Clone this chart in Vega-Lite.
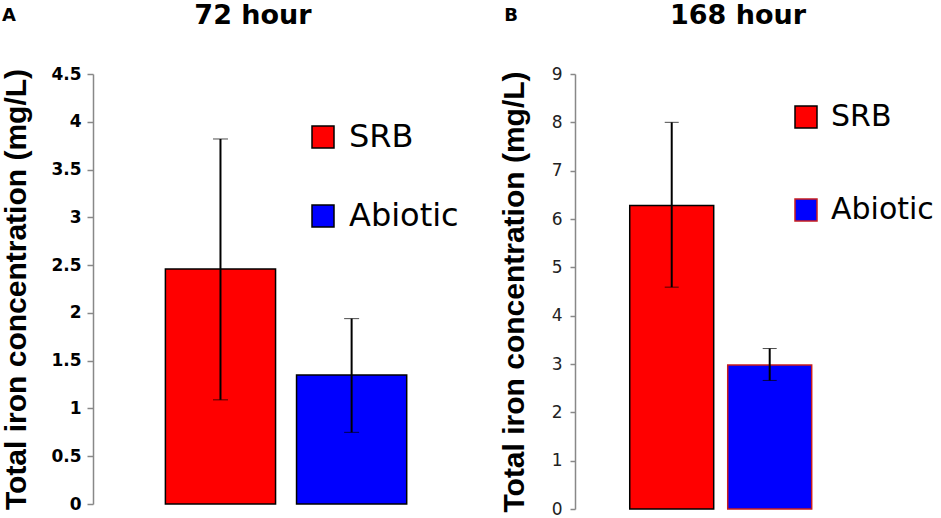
{
  "$schema": "https://vega.github.io/schema/vega-lite/v6.json",
  "padding": {"left": 1, "top": 2, "right": 0, "bottom": 0},
  "background": "white",
  "config": {
    "font": "DejaVu Sans",
    "view": {"stroke": null},
    "axis": {"grid": false},
    "concat": {"spacing": 40}
  },
  "datasets": {
    "fe": [
      {"panel": "72 hour", "group": "SRB", "value": 2.46, "lo": 1.09, "hi": 3.82},
      {"panel": "72 hour", "group": "Abiotic", "value": 1.35, "lo": 0.75, "hi": 1.94},
      {"panel": "168 hour", "group": "SRB", "value": 6.28, "lo": 4.59, "hi": 8.0},
      {"panel": "168 hour", "group": "Abiotic", "value": 2.98, "lo": 2.66, "hi": 3.32}
    ]
  },
  "resolve": {
    "scale": {"color": "independent", "stroke": "independent", "y": "independent", "x": "independent"},
    "legend": {"color": "independent", "stroke": "independent"}
  },
  "hconcat": [
    {
      "title": {"text": "A", "anchor": "start", "fontSize": 18, "fontWeight": "bold", "offset": -23},
      "vconcat": [
        {
          "title": {"text": "72 hour", "fontSize": 27, "fontWeight": "bold", "offset": 35},
          "width": 320,
          "height": 430,
          "data": {"name": "fe"},
          "transform": [{"filter": "datum.panel === '72 hour'"}],
          "encoding": {
            "x": {
              "field": "group", "type": "nominal", "sort": ["SRB", "Abiotic"],
              "scale": {"paddingInner": 0.16, "paddingOuter": 0.3, "align": 0.92},
              "axis": null
            }
          },
          "layer": [
            {
              "mark": {"type": "bar", "stroke": "black", "strokeWidth": 1.5},
              "encoding": {
                "y": {
                  "field": "value", "type": "quantitative",
                  "scale": {"domain": [0, 4.5], "nice": false},
                  "axis": {
                    "title": "Total iron concentration (mg/L)",
                    "titleFont": "Liberation Sans", "titleFontSize": 30, "titleFontWeight": "bold", "titleColor": "black", "titlePadding": 19,
                    "values": [0, 0.5, 1, 1.5, 2, 2.5, 3, 3.5, 4, 4.5],
                    "format": ".1~f",
                    "labelFontSize": 17, "labelFontWeight": "bold", "labelColor": "black", "labelPadding": 6,
                    "domainColor": "#888", "domainWidth": 1.5, "tickColor": "#888", "tickWidth": 1.5, "tickSize": 6
                  }
                },
                "color": {
                  "field": "group", "type": "nominal",
                  "scale": {"domain": ["SRB", "Abiotic"], "range": ["#ff0000", "#0000ff"]},
                  "legend": {
                    "title": null, "orient": "none", "legendX": 214, "legendY": 47,
                    "symbolType": "square", "symbolSize": 484, "symbolStrokeColor": "black", "symbolStrokeWidth": 1.5,
                    "labelFontSize": 32, "labelColor": "black", "labelOffset": 10, "rowPadding": 47
                  }
                }
              }
            },
            {
              "mark": {"type": "errorbar", "ticks": {"size": 15, "color": "black", "strokeWidth": 2}, "rule": {"color": "black", "strokeWidth": 2}},
              "encoding": {
                "y": {"field": "lo", "type": "quantitative", "title": "Total iron concentration (mg/L)"},
                "y2": {"field": "hi"}
              }
            }
          ]
        }
      ]
    },
    {
      "title": {"text": "B", "anchor": "start", "fontSize": 18, "fontWeight": "bold", "offset": -23, "dx": 5},
      "vconcat": [
        {
          "title": {"text": "168 hour", "fontSize": 27, "fontWeight": "bold", "offset": 35},
          "width": 326,
          "height": 435,
          "data": {"name": "fe"},
          "transform": [{"filter": "datum.panel === '168 hour'"}],
          "encoding": {
            "x": {
              "field": "group", "type": "nominal", "sort": ["SRB", "Abiotic"],
              "scale": {"paddingInner": 0.143, "paddingOuter": 0.735, "align": 0.38},
              "axis": null
            }
          },
          "layer": [
            {
              "mark": {"type": "bar", "strokeWidth": 1.5},
              "encoding": {
                "y": {
                  "field": "value", "type": "quantitative",
                  "scale": {"domain": [0, 9], "nice": false},
                  "axis": {
                    "title": "Total iron concentration (mg/L)",
                    "titleFont": "Liberation Sans", "titleFontSize": 30, "titleFontWeight": "bold", "titleColor": "black", "titlePadding": 22,
                    "values": [0, 1, 2, 3, 4, 5, 6, 7, 8, 9],
                    "labelFontSize": 17, "labelColor": "#222", "labelPadding": 8,
                    "domainColor": "#888", "domainWidth": 1.5, "tickColor": "#888", "tickWidth": 1.5, "tickSize": 5
                  }
                },
                "color": {
                  "field": "group", "type": "nominal",
                  "scale": {"domain": ["SRB", "Abiotic"], "range": ["#ff0000", "#0000ff"]},
                  "legend": {
                    "title": null, "orient": "none", "legendX": 216, "legendY": 28,
                    "symbolType": "square", "symbolSize": 484, "symbolStrokeWidth": 1.5,
                    "labelFontSize": 30, "labelColor": "black", "labelOffset": 10, "rowPadding": 63
                  }
                },
                "stroke": {
                  "field": "group", "type": "nominal",
                  "scale": {"domain": ["SRB", "Abiotic"], "range": ["black", "#c81e1e"]},
                  "legend": {
                    "title": null, "orient": "none", "legendX": 216, "legendY": 28,
                    "symbolType": "square", "symbolSize": 484, "symbolStrokeWidth": 1.5,
                    "labelFontSize": 30, "labelColor": "black", "labelOffset": 10, "rowPadding": 63
                  }
                }
              }
            },
            {
              "mark": {"type": "errorbar", "ticks": {"size": 14, "color": "black", "strokeWidth": 2}, "rule": {"color": "black", "strokeWidth": 2}},
              "encoding": {
                "y": {"field": "lo", "type": "quantitative", "title": "Total iron concentration (mg/L)"},
                "y2": {"field": "hi"}
              }
            }
          ]
        }
      ]
    }
  ]
}
